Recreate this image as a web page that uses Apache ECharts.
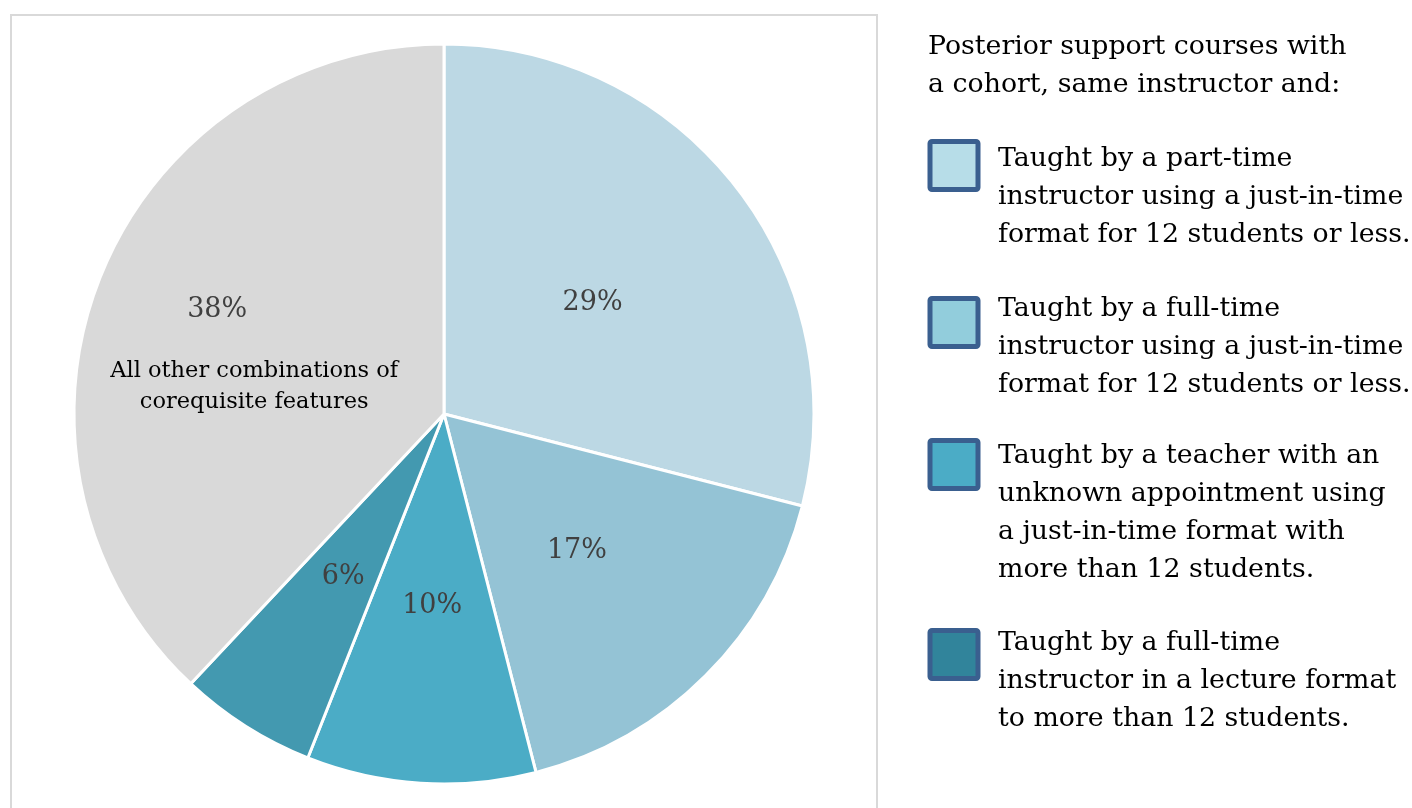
<!DOCTYPE html>
<html>
<head>
<meta charset="utf-8">
<title>Posterior support courses</title>
<script src="https://cdn.jsdelivr.net/npm/echarts@6/dist/echarts.min.js"></script>
<style>
  html, body { margin: 0; padding: 0; background: #ffffff; }
  #chart { width: 1412px; height: 808px; }
</style>
</head>
<body>
<div id="chart"></div>
<script>
// Share of posterior support courses by combination of features (percent)
const sliceNames = [
  'Part-time, just-in-time, 12 or less',
  'Full-time, just-in-time, 12 or less',
  'Unknown appointment, just-in-time, more than 12',
  'Full-time, lecture, more than 12',
  'All other combinations of corequisite features'
];
const sliceValues = [29, 17, 10, 6, 38];
const sliceColors = ['#BCD8E4', '#94C3D5', '#4BACC6', '#4399B0', '#D9D9D9'];

const legendTitle = 'Posterior support courses with\na cohort, same instructor and:';
const legendTexts = [
  'Taught by a part-time\ninstructor using a just-in-time\nformat for 12 students or less.',
  'Taught by a full-time\ninstructor using a just-in-time\nformat for 12 students or less.',
  'Taught by a teacher with an\nunknown appointment using\na just-in-time format with\nmore than 12 students.',
  'Taught by a full-time\ninstructor in a lecture format\nto more than 12 students.'
];
const legendColors = ['#B7DDE8', '#92CDDC', '#4BACC6', '#31849B'];
const otherCaption = 'All other combinations of\ncorequisite features';

// legend layout (box top, first text line top)
const legendBoxTops = [139, 296, 438, 628];
const legendTextTops = [140, 290, 437, 624];

const FONT = '"DejaVu Serif", serif';

const chart = echarts.init(document.getElementById('chart'), null, { renderer: 'canvas' });

const graphics = [
  {
    type: 'rect',
    shape: { x: 11, y: 15, width: 866, height: 820 },
    style: { fill: 'none', stroke: '#D9D9D9', lineWidth: 2 },
    z: -1
  },
  {
    type: 'text',
    x: 928, y: 28,
    style: {
      text: legendTitle,
      font: '26.8px ' + FONT,
      fill: '#000000',
      lineHeight: 38,
      verticalAlign: 'top'
    }
  }
];

legendTexts.forEach((t, i) => {
  graphics.push({
    type: 'rect',
    shape: { x: 930, y: legendBoxTops[i] + 2.5, width: 48, height: 48, r: 2 },
    style: { fill: legendColors[i], stroke: '#3A5F8F', lineWidth: 5 }
  });
  graphics.push({
    type: 'text',
    x: 998, y: legendTextTops[i],
    style: {
      text: t,
      font: '26.8px ' + FONT,
      fill: '#000000',
      lineHeight: 38,
      verticalAlign: 'top'
    }
  });
});

chart.setOption({
  backgroundColor: '#ffffff',
  animation: false,
  graphic: graphics,
  series: [{
    type: 'pie',
    center: [444, 414],
    radius: [0, 370],
    startAngle: 90,
    clockwise: true,
    avoidLabelOverlap: false,
    itemStyle: { borderColor: '#ffffff', borderWidth: 3 },
    label: {
      show: true,
      position: 'inside',
      color: '#404040',
      fontFamily: FONT,
      fontSize: 27,
      formatter: p => p.value + '%'
    },
    labelLine: { show: false },
    emphasis: { disabled: true },
    labelLayout: function (params) {
      if (params.dataIndex === sliceValues.length - 1) {
        return { dx: -15, dy: 24 };
      }
      return { dy: 4 };
    },
    data: sliceValues.map((v, i) => {
      const item = { name: sliceNames[i], value: v, itemStyle: { color: sliceColors[i] } };
      if (i === sliceValues.length - 1) {
        item.label = {
          formatter: p => '{p|' + p.value + '%}\n' +
            otherCaption.split('\n').map(s => '{d|' + s + '}').join('\n'),
          rich: {
            p: {
              color: '#404040', fontFamily: FONT, fontSize: 27,
              lineHeight: 36, padding: [0, 74, 56, 0]
            },
            d: {
              color: '#000000', fontFamily: FONT, fontSize: 22.5,
              lineHeight: 31
            }
          }
        };
      }
      return item;
    })
  }]
});
</script>
</body>
</html>
